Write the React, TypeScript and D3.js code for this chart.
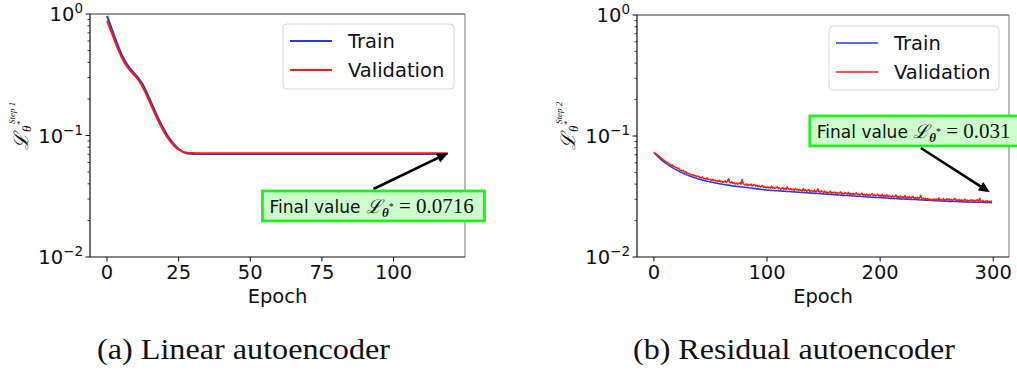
import React from "react";
import * as d3 from "d3";

// ---------- data ----------
const xTicksA = [0, 25, 50, 75, 100];
const xTicksB = [0, 100, 200, 300];
const yTicks = [1, 0.1, 0.01];
const yTickExp = ["0", "\u22121", "\u22122"];
const seriesNames = ["Train", "Validation"];
const captions = ["(a) Linear autoencoder", "(b) Residual autoencoder"];
const annotationTexts = ["0.0716", "0.031"];

const trainA = [
  0.966, 0.832, 0.716, 0.617, 0.537, 0.47, 0.422, 0.386, 0.358, 0.336,
  0.316, 0.296, 0.274, 0.249, 0.223, 0.197, 0.174, 0.154, 0.137, 0.123,
  0.111, 0.101, 0.0933, 0.0871, 0.0817, 0.0776, 0.0745, 0.0724, 0.0711, 0.0707,
  0.0705, 0.0704, 0.0703, 0.0703, 0.0703, 0.0703, 0.0703, 0.0703, 0.0703, 0.0703,
  0.0703, 0.0703, 0.0703, 0.0703, 0.0703, 0.0703, 0.0703, 0.0703, 0.0703, 0.0703,
  0.0703, 0.0703, 0.0703, 0.0703, 0.0703, 0.0703, 0.0703, 0.0703, 0.0703, 0.0703,
  0.0703, 0.0703, 0.0703, 0.0703, 0.0703, 0.0703, 0.0703, 0.0703, 0.0703, 0.0703,
  0.0703, 0.0703, 0.0703, 0.0703, 0.0703, 0.0703, 0.0703, 0.0703, 0.0703, 0.0703,
  0.0703, 0.0703, 0.0703, 0.0703, 0.0703, 0.0703, 0.0703, 0.0703, 0.0703, 0.0703,
  0.0703, 0.0703, 0.0703, 0.0703, 0.0703, 0.0703, 0.0703, 0.0703, 0.0703, 0.0703,
  0.0703, 0.0703, 0.0703, 0.0703, 0.0703, 0.0703, 0.0703, 0.0703, 0.0703, 0.0703,
  0.0703, 0.0703, 0.0703, 0.0703, 0.0703, 0.0703, 0.0703, 0.0703, 0.0703, 0.0703,
];

const valA = [
  0.88, 0.765, 0.662, 0.573, 0.502, 0.444, 0.4, 0.369, 0.344, 0.324,
  0.305, 0.285, 0.262, 0.236, 0.21, 0.186, 0.164, 0.146, 0.13, 0.117,
  0.106, 0.0968, 0.0898, 0.0843, 0.0797, 0.0765, 0.0742, 0.0728, 0.072, 0.0718,
  0.0717, 0.0716, 0.0716, 0.0716, 0.0716, 0.0716, 0.0716, 0.0716, 0.0716, 0.0716,
  0.0716, 0.0716, 0.0716, 0.0716, 0.0716, 0.0716, 0.0716, 0.0716, 0.0716, 0.0716,
  0.0716, 0.0716, 0.0716, 0.0716, 0.0716, 0.0716, 0.0716, 0.0716, 0.0716, 0.0716,
  0.0716, 0.0716, 0.0716, 0.0716, 0.0716, 0.0716, 0.0716, 0.0716, 0.0716, 0.0716,
  0.0716, 0.0716, 0.0716, 0.0716, 0.0716, 0.0716, 0.0716, 0.0716, 0.0716, 0.0716,
  0.0716, 0.0716, 0.0716, 0.0716, 0.0716, 0.0716, 0.0716, 0.0716, 0.0716, 0.0716,
  0.0716, 0.0716, 0.0716, 0.0716, 0.0716, 0.0716, 0.0716, 0.0716, 0.0716, 0.0716,
  0.0716, 0.0716, 0.0716, 0.0716, 0.0716, 0.0716, 0.0716, 0.0716, 0.0716, 0.0716,
  0.0716, 0.0716, 0.0716, 0.0716, 0.0716, 0.0716, 0.0716, 0.0716, 0.0716, 0.0716,
];

const trainB = [
  0.0728, 0.0712, 0.0698, 0.0683, 0.0668, 0.0656, 0.0642, 0.0632, 0.0619, 0.0611,
  0.06, 0.0592, 0.0581, 0.0574, 0.0564, 0.0558, 0.0549, 0.0544, 0.0535, 0.0531,
  0.0524, 0.0517, 0.0513, 0.0505, 0.0502, 0.0495, 0.0492, 0.0485, 0.0483, 0.0477,
  0.0475, 0.0469, 0.0467, 0.0461, 0.046, 0.0454, 0.0453, 0.0448, 0.0447, 0.0442,
  0.0441, 0.0436, 0.0436, 0.0431, 0.0431, 0.0426, 0.0426, 0.0422, 0.0422, 0.0418,
  0.0418, 0.0414, 0.0414, 0.041, 0.0411, 0.0407, 0.0407, 0.0404, 0.0404, 0.0401,
  0.0401, 0.0398, 0.0398, 0.0395, 0.0396, 0.0392, 0.0393, 0.039, 0.0391, 0.0387,
  0.0388, 0.0385, 0.0386, 0.0383, 0.0384, 0.0381, 0.0382, 0.0379, 0.038, 0.0377,
  0.0378, 0.0375, 0.0376, 0.0373, 0.0374, 0.0371, 0.0372, 0.0369, 0.037, 0.0367,
  0.0368, 0.0365, 0.0366, 0.0363, 0.0364, 0.0361, 0.0362, 0.0359, 0.036, 0.0357,
  0.0358, 0.0356, 0.0357, 0.0355, 0.0356, 0.0354, 0.0355, 0.0353, 0.0354, 0.0352,
  0.0353, 0.0351, 0.0352, 0.035, 0.0351, 0.0349, 0.035, 0.0348, 0.0349, 0.0347,
  0.0348, 0.0346, 0.0347, 0.0345, 0.0346, 0.0344, 0.0345, 0.0343, 0.0344, 0.0342,
  0.0343, 0.0341, 0.0342, 0.034, 0.0341, 0.0339, 0.034, 0.0338, 0.0339, 0.0337,
  0.0338, 0.0336, 0.0337, 0.0335, 0.0336, 0.0334, 0.0335, 0.0333, 0.0334, 0.0332,
  0.0333, 0.0331, 0.0332, 0.033, 0.0331, 0.0329, 0.033, 0.0328, 0.0329, 0.0327,
  0.0328, 0.0326, 0.0327, 0.0325, 0.0326, 0.0324, 0.0325, 0.0323, 0.0324, 0.0322,
  0.0323, 0.0322, 0.0322, 0.0321, 0.0321, 0.032, 0.032, 0.0319, 0.0319, 0.0318,
  0.0318, 0.0317, 0.0317, 0.0316, 0.0316, 0.0315, 0.0315, 0.0314, 0.0314, 0.0313,
  0.0313, 0.0313, 0.0312, 0.0312, 0.0312, 0.0311, 0.0311, 0.0311, 0.031, 0.0311,
  0.031, 0.0309, 0.031, 0.0308, 0.0309, 0.0307, 0.0308, 0.0306, 0.0307, 0.0305,
  0.0306, 0.0305, 0.0305, 0.0304, 0.0305, 0.0303, 0.0304, 0.0302, 0.0303, 0.0302,
  0.0302, 0.0301, 0.0302, 0.03, 0.0301, 0.03, 0.03, 0.0299, 0.03, 0.0298,
  0.0299, 0.0298, 0.0298, 0.0297, 0.0298, 0.0296, 0.0297, 0.0296, 0.0296, 0.0295,
  0.0296, 0.0294, 0.0295, 0.0294, 0.0294, 0.0293, 0.0294, 0.0292, 0.0293, 0.0292,
  0.0292, 0.0291, 0.0292, 0.029, 0.0291, 0.029, 0.029, 0.0289, 0.029, 0.0289,
  0.0289, 0.0288, 0.0289, 0.0288, 0.0288, 0.0287, 0.0288, 0.0287, 0.0287, 0.0286,
  0.0287, 0.0286, 0.0286, 0.0285, 0.0286, 0.0285, 0.0285, 0.0286, 0.0284, 0.0285,
  0.0285, 0.0284, 0.0285, 0.0284, 0.0284, 0.0283, 0.0284, 0.0283, 0.0283, 0.0284,
  0.0283, 0.0282, 0.0283, 0.0282, 0.0283, 0.0281, 0.0282, 0.0282, 0.0281, 0.0282,
];

const valB = [
  0.0735, 0.0722, 0.0712, 0.0698, 0.0689, 0.0671, 0.0664, 0.065, 0.0641, 0.0628,
  0.0622, 0.0608, 0.0607, 0.059, 0.0588, 0.0572, 0.0579, 0.0561, 0.056, 0.0551,
  0.0548, 0.0535, 0.0541, 0.0522, 0.052, 0.0515, 0.0519, 0.0502, 0.0508, 0.0494,
  0.0493, 0.0488, 0.0482, 0.0484, 0.0472, 0.0478, 0.0466, 0.047, 0.0461, 0.0467,
  0.0458, 0.0455, 0.045, 0.0459, 0.0444, 0.0447, 0.044, 0.0451, 0.0437, 0.0438,
  0.0435, 0.0429, 0.0439, 0.0426, 0.0433, 0.0424, 0.0428, 0.0419, 0.0431, 0.0418,
  0.0422, 0.0414, 0.0418, 0.0426, 0.0412, 0.0419, 0.0445, 0.0416, 0.0409, 0.0418,
  0.0406, 0.0412, 0.0401, 0.0409, 0.0399, 0.0405, 0.0411, 0.0398, 0.0437, 0.0403,
  0.0397, 0.0392, 0.0403, 0.0389, 0.0396, 0.0391, 0.0401, 0.0386, 0.0394, 0.0399,
  0.0385, 0.0392, 0.0381, 0.0388, 0.0379, 0.0384, 0.039, 0.0377, 0.0383, 0.0374,
  0.038, 0.0373, 0.0377, 0.0371, 0.0385, 0.037, 0.0376, 0.0369, 0.0374, 0.0381,
  0.0367, 0.0372, 0.0364, 0.037, 0.0375, 0.0363, 0.0369, 0.0362, 0.0378, 0.0366,
  0.0361, 0.0367, 0.0358, 0.0364, 0.0356, 0.037, 0.0359, 0.0363, 0.0355, 0.0361,
  0.0356, 0.035, 0.0368, 0.0353, 0.0359, 0.0349, 0.0355, 0.0361, 0.0348, 0.0354,
  0.0351, 0.0346, 0.0357, 0.0344, 0.035, 0.0365, 0.0347, 0.0342, 0.0353, 0.0345,
  0.0341, 0.0349, 0.0339, 0.0345, 0.0337, 0.0343, 0.035, 0.0336, 0.0342, 0.0338,
  0.0345, 0.0335, 0.0341, 0.0333, 0.0339, 0.0346, 0.0332, 0.0338, 0.0331, 0.034,
  0.0335, 0.033, 0.0342, 0.0328, 0.0334, 0.0329, 0.0336, 0.0327, 0.0333, 0.0339,
  0.0326, 0.0332, 0.0325, 0.033, 0.0337, 0.0324, 0.0329, 0.0323, 0.0331, 0.0322,
  0.0328, 0.0321, 0.0327, 0.0334, 0.032, 0.0326, 0.0319, 0.0325, 0.033, 0.0318,
  0.0324, 0.0317, 0.0329, 0.0316, 0.0322, 0.0315, 0.0327, 0.0314, 0.032, 0.0318,
  0.0313, 0.0321, 0.0312, 0.0318, 0.0325, 0.0311, 0.0316, 0.031, 0.0319, 0.0309,
  0.0315, 0.0308, 0.0322, 0.0307, 0.0313, 0.0306, 0.0316, 0.0305, 0.0311, 0.0317,
  0.0304, 0.031, 0.0303, 0.0312, 0.0302, 0.0308, 0.0323, 0.0301, 0.0307, 0.03,
  0.0306, 0.0299, 0.0304, 0.0296, 0.0302, 0.0295, 0.03, 0.0294, 0.0303, 0.0297,
  0.0301, 0.0295, 0.0308, 0.0294, 0.0299, 0.0293, 0.0304, 0.0292, 0.0298, 0.0303,
  0.0296, 0.0302, 0.0294, 0.03, 0.0293, 0.0298, 0.0305, 0.0292, 0.0297, 0.0291,
  0.0299, 0.0293, 0.0297, 0.029, 0.0295, 0.0301, 0.0291, 0.0296, 0.0289, 0.0294,
  0.0292, 0.0298, 0.029, 0.0295, 0.0288, 0.0294, 0.0297, 0.0287, 0.0306, 0.0289,
  0.0286, 0.0293, 0.0285, 0.029, 0.0287, 0.0292, 0.0284, 0.0289, 0.0286, 0.0291,
];

// ---------- styles ----------
const BLUE = "#1f3ee0";
const RED = "#ff1a1a";
const SANS = "'DejaVu Sans', sans-serif";
const SERIF = "'Liberation Serif', 'DejaVu Serif', serif";
const TICK_FS = 19.5;

type Box = { left: number; right: number; top: number; bottom: number };

type PanelProps = {
  box: Box;
  xDomain: [number, number];
  xTicks: number[];
  train: number[];
  val: number[];
  lineWidth: number;
  legend: { x: number; y: number; w: number; h: number };
  annHead: [number, number];
  annText: [number, number];
  annValue: string;
  annWidth: number;
  step: string;
  ylabelX: number;
  caption: string;
  captionX: number;
  captionW: number;
};

function Panel(p: PanelProps) {
  const { box } = p;
  const x = d3.scaleLinear().domain(p.xDomain).range([box.left, box.right]);
  const y = d3.scaleLog().domain([0.01, 1]).range([box.bottom, box.top]);
  const line = d3
    .line<number>()
    .x((_, i) => x(i))
    .y((d) => y(d));

  const minor: number[] = [];
  [0.01, 0.1].forEach((dec) => {
    for (let k = 2; k <= 9; k++) minor.push(dec * k);
  });

  // arrow
  const hx = x(p.annHead[0]);
  const hy = y(p.annHead[1]);
  const cx = x(p.annText[0]);
  const cy = y(p.annText[1]);
  const boxH = 30;
  const tailY = hy < cy ? cy - boxH / 2 - 2 : cy + boxH / 2 + 2;
  const tx = cx;
  const dx = hx - tx;
  const dy = hy - tailY;
  const len = Math.sqrt(dx * dx + dy * dy);
  const ux = dx / len;
  const uy = dy / len;
  const headL = 11;
  const headW = 5;
  const bx = hx - ux * headL;
  const by = hy - uy * headL;
  const tri = `${hx},${hy} ${bx - uy * headW},${by + ux * headW} ${bx + uy * headW},${by - ux * headW}`;

  const lg = p.legend;
  const ylx = p.ylabelX;

  return (
    <g>
      <defs>
        <clipPath id={`clip-${box.left}`}>
          <rect x={box.left} y={box.top} width={box.right - box.left} height={box.bottom - box.top} />
        </clipPath>
      </defs>
      {/* lines */}
      <g clipPath={`url(#clip-${box.left})`}>
        <path d={line(p.train) || ""} fill="none" stroke={BLUE} strokeWidth={p.lineWidth} strokeLinejoin="round" />
        <path d={line(p.val) || ""} fill="none" stroke={RED} strokeWidth={p.lineWidth} strokeLinejoin="round" />
      </g>
      {/* spines */}
      <line x1={box.left} x2={box.right} y1={box.top} y2={box.top} stroke="#333" strokeWidth={1} />
      <line x1={box.right} x2={box.right} y1={box.top} y2={box.bottom} stroke="#777" strokeWidth={1} />
      <line x1={box.left} x2={box.left} y1={box.top} y2={box.bottom} stroke="#111" strokeWidth={1.2} />
      <line x1={box.left} x2={box.right} y1={box.bottom} y2={box.bottom} stroke="#111" strokeWidth={1.2} />
      {/* y ticks */}
      {yTicks.map((t, i) => (
        <g key={`yt${i}`}>
          <line x1={box.left - 4.5} x2={box.left} y1={y(t)} y2={y(t)} stroke="#111" strokeWidth={1} />
          <text x={box.left - 7} y={y(t) + 7} textAnchor="end" fontFamily={SANS} fontSize={TICK_FS} fill="#111">
            10
            <tspan dy={-8} fontSize={13.5}>
              {yTickExp[i]}
            </tspan>
          </text>
        </g>
      ))}
      {minor.map((t, i) => (
        <line key={`ym${i}`} x1={box.left - 2.5} x2={box.left} y1={y(t)} y2={y(t)} stroke="#111" strokeWidth={0.8} />
      ))}
      {/* x ticks */}
      {p.xTicks.map((t) => (
        <g key={`xt${t}`}>
          <line x1={x(t)} x2={x(t)} y1={box.bottom} y2={box.bottom + 4.5} stroke="#111" strokeWidth={1} />
          <text x={x(t)} y={box.bottom + 22} textAnchor="middle" fontFamily={SANS} fontSize={TICK_FS} fill="#111">
            {t}
          </text>
        </g>
      ))}
      <text x={(box.left + box.right) / 2} y={box.bottom + 46} textAnchor="middle" fontFamily={SANS} fontSize={TICK_FS} fill="#111">
        Epoch
      </text>
      {/* y label */}
      <g transform={`translate(${ylx},150) rotate(-90)`} fill="#111">
        <text x={0} y={-4} fontFamily="'DejaVu Serif', serif" fontStyle="italic" fontSize={20}>
          {"\u2112"}
        </text>
        <text x={18} y={-1} fontFamily={SERIF} fontStyle="italic" fontSize={13}>
          {"\u03B8"}
        </text>
        <text x={25} y={-9} fontFamily={SERIF} fontSize={9}>
          *
        </text>
        <text x={26} y={-17} fontFamily={SERIF} fontStyle="italic" fontSize={9}>
          {p.step}
        </text>
      </g>
      {/* legend */}
      <rect x={lg.x} y={lg.y} width={lg.w} height={lg.h} rx={4} fill="white" fillOpacity={0.85} stroke="#d6d6d6" strokeWidth={1} />
      {seriesNames.map((n, i) => (
        <g key={n}>
          <line x1={lg.x + 7} x2={lg.x + 49} y1={lg.y + 17 + i * 29} y2={lg.y + 17 + i * 29} stroke={i === 0 ? BLUE : RED} strokeWidth={p.lineWidth} />
          <text x={lg.x + 65} y={lg.y + 24 + i * 29} fontFamily={SANS} fontSize={TICK_FS} fill="#111">
            {n}
          </text>
        </g>
      ))}
      {/* annotation */}
      <line x1={tx} y1={tailY} x2={bx} y2={by} stroke="#000" strokeWidth={2.6} />
      <polygon points={tri} fill="#000" />
      <rect x={cx - p.annWidth / 2} y={cy - boxH / 2} width={p.annWidth} height={boxH} fill="#cdfccd" stroke="#22ee22" strokeWidth={2.8} />
      <text x={cx - p.annWidth / 2 + 7} y={cy + 7} fill="#111">
        <tspan fontFamily={SANS} fontSize={17}>Final value </tspan>
        <tspan fontFamily="'DejaVu Serif', serif" fontStyle="italic" fontSize={19}>{"\u2112"}</tspan>
        <tspan fontFamily={SERIF} fontStyle="italic" fontWeight="bold" fontSize={13} dy={4}>{"\u03B8"}</tspan>
        <tspan fontFamily={SERIF} fontSize={10} dy={-7}>*</tspan>
        <tspan fontFamily={SERIF} fontSize={21} dy={3}>{" = " + p.annValue}</tspan>
      </text>
      {/* caption */}
      <text x={p.captionX} y={359} fontFamily={SERIF} fontSize={30} fill="#111" textLength={p.captionW} lengthAdjust="spacingAndGlyphs">
        {p.caption}
      </text>
    </g>
  );
}

export default function App() {
  return (
    <svg width={1017} height={371} style={{ position: "absolute", left: 0, top: 0, background: "white" }}>
      <rect x={0} y={0} width={1017} height={371} fill="white" />
      <Panel
        box={{ left: 90, right: 465, top: 14, bottom: 257 }}
        xDomain={[-5.95, 124.95]}
        xTicks={xTicksA}
        train={trainA}
        val={valA}
        lineWidth={2}
        legend={{ x: 283, y: 24, w: 171, h: 65 }}
        annHead={[119, 0.0716]}
        annText={[93, 0.0263]}
        annValue={annotationTexts[0]}
        annWidth={222}
        step="Step 1"
        ylabelX={32}
        caption={captions[0]}
        captionX={97}
        captionW={293}
      />
      <Panel
        box={{ left: 637, right: 1009, top: 15, bottom: 257 }}
        xDomain={[-14.95, 313.95]}
        xTicks={xTicksB}
        train={trainB}
        val={valB}
        lineWidth={1.5}
        legend={{ x: 829, y: 26, w: 170, h: 64 }}
        annHead={[297, 0.0343]}
        annText={[236, 0.11]}
        annValue={annotationTexts[1]}
        annWidth={222}
        step="Step 2"
        ylabelX={579}
        caption={captions[1]}
        captionX={633}
        captionW={322}
      />
    </svg>
  );
}
